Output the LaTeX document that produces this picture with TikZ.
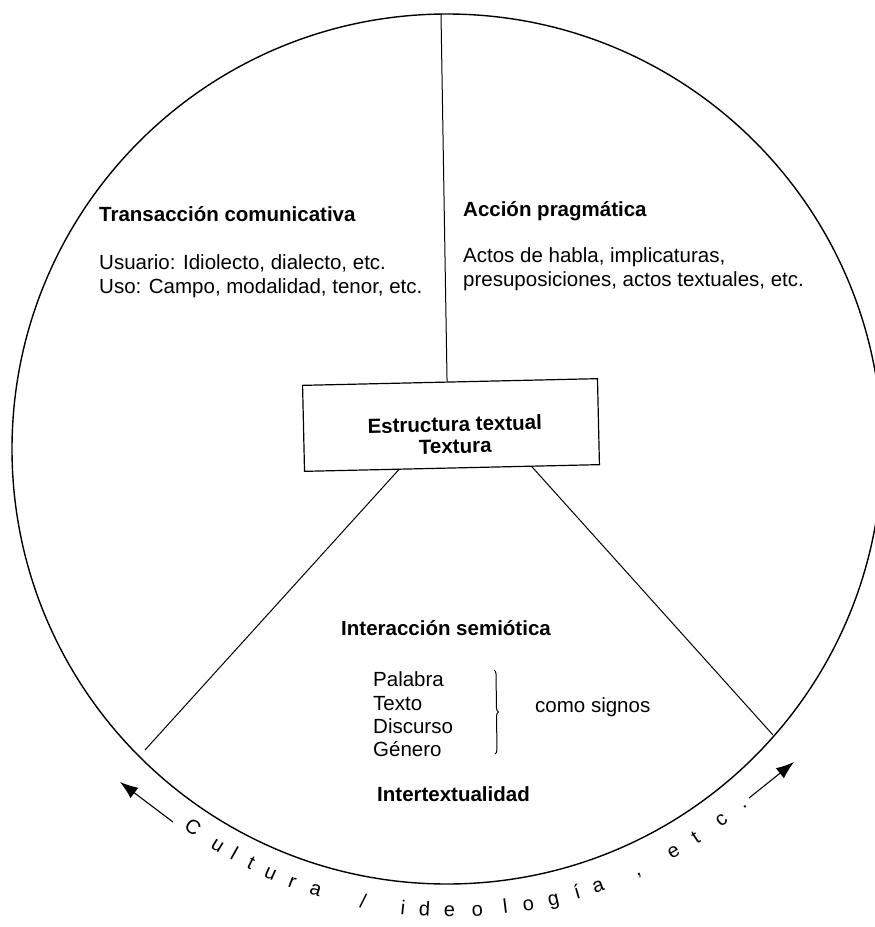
\documentclass[tikz,border=0pt]{standalone}
\usepackage{fontspec}
\setmainfont{Liberation Sans}
\usetikzlibrary{calc,arrows.meta,decorations.pathreplacing}
\begin{document}
\begin{tikzpicture}[x=1pt,y=-1pt,
  txt/.style={font=\fontsize{20.5}{24}\selectfont, inner sep=0pt, anchor=base west},
  head/.style={txt, font=\fontsize{20.5}{24}\selectfont\bfseries},
  arcletter/.style={font=\fontsize{20}{24}\selectfont, inner sep=0pt, anchor=base},
  rule/.style={line width=1pt},
  flow/.style={line width=1.1pt, -{Latex[length=18pt,width=13pt]}}]
\useasboundingbox (0,0) rectangle (875,927);

% outer ring
\node[draw, circle, line width=1.4pt, minimum size=870pt, inner sep=0pt] (ring) at (447,449) {};

% central box and its label
\node[draw, line width=1.2pt, rotate=1.3, minimum width=295pt, minimum height=86pt] (box) at (451,425) {};
\node[rotate=1.3, align=center, inner sep=0pt, font=\fontsize{20.5}{22}\selectfont\bfseries] (boxlabel)
      at ($(box.center)+(4,10)$) {Estructura textual\\Textura};

% partition lines
\coordinate (ctop) at (441,14);
\coordinate (cll) at (145,750);
\coordinate (clr) at (773,735);
\draw[rule] (ctop) -- ($(box.north west)!0.49!(box.north east)$);
\draw[rule] ($(box.south west)!0.32!(box.south east)$) -- (cll);
\draw[rule] ($(box.south west)!0.77!(box.south east)$) -- (clr);

% upper left sector
\node[head] (tc) at (99,221) {Transacción comunicativa};
\node[txt] (tc1) at (99,269) {Usuario: Idiolecto, dialecto, etc.};
\node[txt] (tc2) at (99,293) {Uso: Campo, modalidad, tenor, etc.};

% upper right sector
\node[head] (ap) at (463,216) {Acción pragmática};
\node[txt] (ap1) at (463,262) {Actos de habla, implicaturas,};
\node[txt] (ap2) at (463,286) {presuposiciones, actos textuales, etc.};

% lower sector
\node[head] (is) at (341,635) {Interacción semiótica};
\node[txt] (w1) at (373,686) {Palabra};
\node[txt] (w2) at (373,710) {Texto};
\node[txt] (w3) at (373,733) {Discurso};
\node[txt] (w4) at (373,756) {Género};
\coordinate (bt) at (494,670);
\coordinate (bb) at (495,754);
\draw[line width=1pt, decorate, decoration={brace, amplitude=4pt}] (bt) -- (bb);
\node[txt] (cs) at (535,712) {como signos};
\node[head] (it) at (377,801) {Intertextualidad};

% surrounding context, set along an arc
\coordinate (arcc) at (451,466);
\foreach \ch/\ang [count=\k] in {C/125.5, u/121.6, l/119.2, t/116.7, u/113.9, r/110.9, a/107.7,
    {/}/101.4, i/96.2, d/93.4, e/90.2, o/86.6, l/83.0, o/80.0, g/76.7, í/73.5, a/70.7,
    {,}/65.3, e/60.0, t/56.6, c/52.6, ./49.2}
  \node[arcletter, rotate=90-\ang] (ch\k) at ($(arcc)+(\ang:451)$) {\ch};

\coordinate (al1) at (173,822);
\coordinate (al2) at (120,782);
\coordinate (ar1) at (749,798);
\coordinate (ar2) at (794,762);
\draw[flow] (al1) -- (al2);
\draw[flow] (ar1) -- (ar2);
\end{tikzpicture}
\end{document}
